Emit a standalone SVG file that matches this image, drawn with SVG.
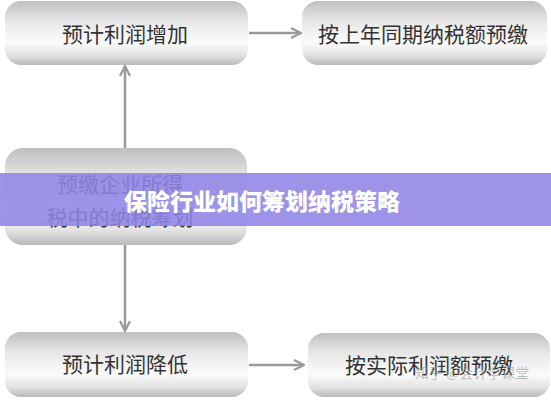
<svg xmlns="http://www.w3.org/2000/svg" width="551" height="400" viewBox="0 0 551 400">
<defs>
<linearGradient id="g" x1="0" y1="0" x2="0" y2="1">
<stop offset="0" stop-color="#bfbfbf"/>
<stop offset="0.3" stop-color="#e6e6e6"/>
<stop offset="0.65" stop-color="#fbfbfb"/>
<stop offset="0.85" stop-color="#e2e2e2"/>
<stop offset="1" stop-color="#b8b8b8"/>
</linearGradient>
<marker id="ah" viewBox="0 0 12 12" refX="11" refY="6" markerWidth="12" markerHeight="12" markerUnits="userSpaceOnUse" orient="auto">
<path d="M1,1 L11,6 L1,11" fill="none" stroke="#9a9a9a" stroke-width="2.2"/>
</marker>
</defs>
<style>
.box{fill:url(#g);}
.t{font-family:"Noto Sans CJK SC",sans-serif;font-size:21px;fill:#333;text-anchor:middle;dominant-baseline:central;}
.c{stroke:#9a9a9a;stroke-width:2.5;fill:none;marker-end:url(#ah);}
</style>
<rect width="551" height="400" fill="#fff"/>
<g id="connectors">
<line class="c" x1="249" y1="33" x2="301" y2="33"/>
<line class="c" x1="125" y1="148" x2="125" y2="66"/>
<line class="c" x1="125" y1="245" x2="125" y2="331"/>
<line class="c" x1="249" y1="365" x2="304" y2="365"/>
</g>
<g id="n1"><rect class="box" x="5" y="1" width="243" height="64" rx="16"/><text class="t" x="125" y="33">预计利润增加</text></g>
<g id="n2"><rect class="box" x="302" y="1" width="245" height="64" rx="16"/><text class="t" x="423" y="33">按上年同期纳税额预缴</text></g>
<g id="n3"><rect class="box" x="5" y="148" width="242" height="97" rx="18"/><text class="t" x="120" y="183">预缴企业所得</text><text class="t" x="120" y="216">税中的纳税筹划</text></g>
<g id="n4"><rect class="box" x="5" y="332" width="243" height="65" rx="16"/><text class="t" x="125" y="363">预计利润降低</text></g>
<g id="n5"><rect class="box" x="308" y="333" width="242" height="64" rx="16"/><text class="t" x="429" y="364">按实际利润额预缴</text></g>
<g id="banner">
<rect x="0" y="173" width="551" height="53" fill="#8f84e6" fill-opacity="0.88"/>
<text x="262" y="200" font-family="'Noto Sans CJK SC',sans-serif" font-size="23" font-weight="900" fill="#fff" text-anchor="middle" dominant-baseline="central">保险行业如何筹划纳税策略</text>
</g>
<text x="472" y="378" font-family="'Noto Sans CJK SC',sans-serif" font-size="14" fill="#999" fill-opacity="0.6" text-anchor="middle">知乎 @会计学课堂</text>
</svg>
